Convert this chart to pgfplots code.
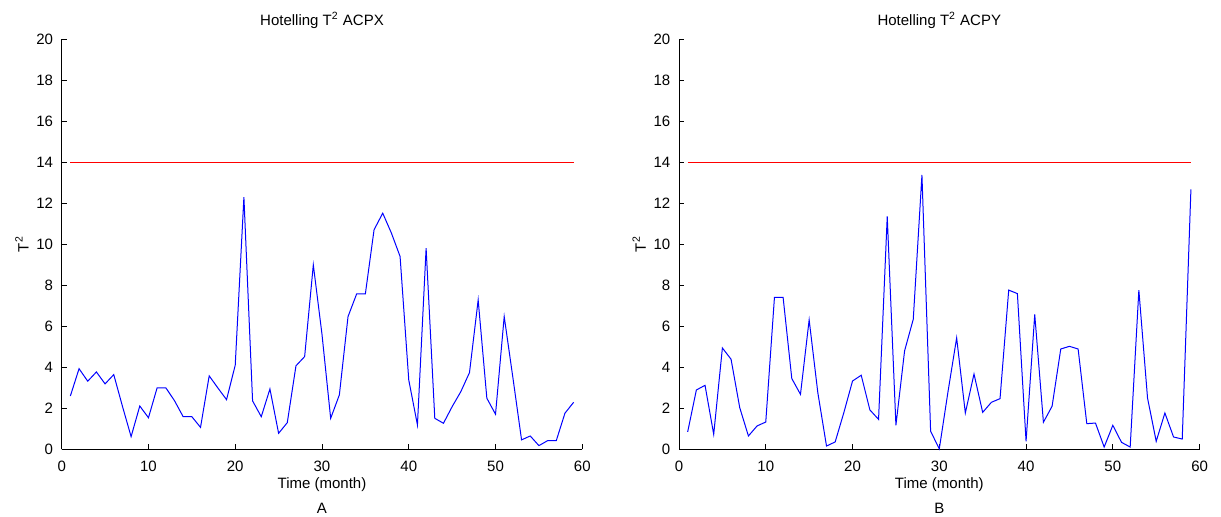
\documentclass[border=0pt]{standalone}
\usepackage{fontspec}
\setmainfont{Liberation Sans}
\usepackage{pgfplots}
\pgfplotsset{compat=1.18}

% reference pixels -> 0.5pt
\pgfplotsset{
  hot/.style={
    scale only axis,
    width=260.3pt, height=205.15pt,
    anchor=south west,
    xmin=0, xmax=60, ymin=0, ymax=20,
    xtick={0,10,...,60}, ytick={0,2,...,20},
    axis x line*=bottom, axis y line*=left,
    tick align=inside,
    major tick length=2.5pt,
    every tick/.style={black, line width=0.4pt},
    axis line style={black, line width=0.5pt},
    font=\fontsize{7.5}{9}\selectfont,
    /pgf/number format/assume math mode=true,
    xticklabel style={yshift=-2.2pt},
    yticklabel style={xshift=-0.8pt},
    every axis title shift=0pt,
    title style={at={(axis description cs:0.5,1.0463)}, anchor=center},
    xlabel style={at={(axis description cs:0.5,-0.087)}, anchor=center},
    ylabel style={at={(axis description cs:-0.0763,0.5)}, anchor=center, rotate=0},
    xlabel={Time (month)},
    ylabel={T\textsuperscript{2}},
    clip=false,
  },
  tsq/.style={blue, line width=0.5pt},
  ucl/.style={red, line width=0.5pt},
}

\begin{document}
\begin{tikzpicture}
\path[use as bounding box] (0,0) rectangle (610.5pt,258pt);

\begin{axis}[hot, at={(30.85pt,33.35pt)}, title={Hotelling T\textsuperscript{2} ACPX}]
\addplot[ucl] coordinates {(1,14) (59,14)};
\addplot[tsq] coordinates {
(1,2.6) (2,3.93) (3,3.32) (4,3.77) (5,3.19) (6,3.64) (7,2.1) (8,0.62) (9,2.11) (10,1.54)
(11,3.0) (12,3.0) (13,2.37) (14,1.59) (15,1.59) (16,1.07) (17,3.58) (18,2.99) (19,2.42) (20,4.1)
(21,12.29) (22,2.36) (23,1.59) (24,2.94) (25,0.78) (26,1.3) (27,4.07) (28,4.52) (29,8.99) (30,5.6)
(31,1.51) (32,2.65) (33,6.47) (34,7.58) (35,7.58) (36,10.7) (37,11.51) (38,10.54) (39,9.4) (40,3.38)
(41,1.19) (42,9.8) (43,1.51) (44,1.27) (45,2.08) (46,2.81) (47,3.74) (48,7.28) (49,2.49) (50,1.71)
(51,6.47) (52,3.5) (53,0.46) (54,0.65) (55,0.18) (56,0.42) (57,0.42) (58,1.76) (59,2.29)
};
\node at (axis description cs:0.5,-0.143) {A};
\end{axis}

\begin{axis}[hot, at={(339.5pt,33.35pt)}, title={Hotelling T\textsuperscript{2} ACPY}]
\addplot[ucl] coordinates {(1,14) (59,14)};
\addplot[tsq] coordinates {
(1,0.85) (2,2.89) (3,3.12) (4,0.73) (5,4.94) (6,4.39) (7,2.03) (8,0.65) (9,1.14) (10,1.33)
(11,7.4) (12,7.4) (13,3.45) (14,2.68) (15,6.31) (16,2.76) (17,0.16) (18,0.36) (19,1.79) (20,3.33)
(21,3.61) (22,1.92) (23,1.46) (24,11.35) (25,1.17) (26,4.8) (27,6.34) (28,13.37) (29,0.88) (30,0.02)
(31,2.8) (32,5.43) (33,1.77) (34,3.67) (35,1.8) (36,2.29) (37,2.47) (38,7.76) (39,7.59) (40,0.39)
(41,6.57) (42,1.32) (43,2.1) (44,4.89) (45,5.02) (46,4.89) (47,1.25) (48,1.28) (49,0.11) (50,1.17)
(51,0.34) (52,0.11) (53,7.76) (54,2.5) (55,0.39) (56,1.77) (57,0.6) (58,0.5) (59,12.67)
};
\node at (axis description cs:0.5,-0.143) {B};
\end{axis}
\end{tikzpicture}
\end{document}
